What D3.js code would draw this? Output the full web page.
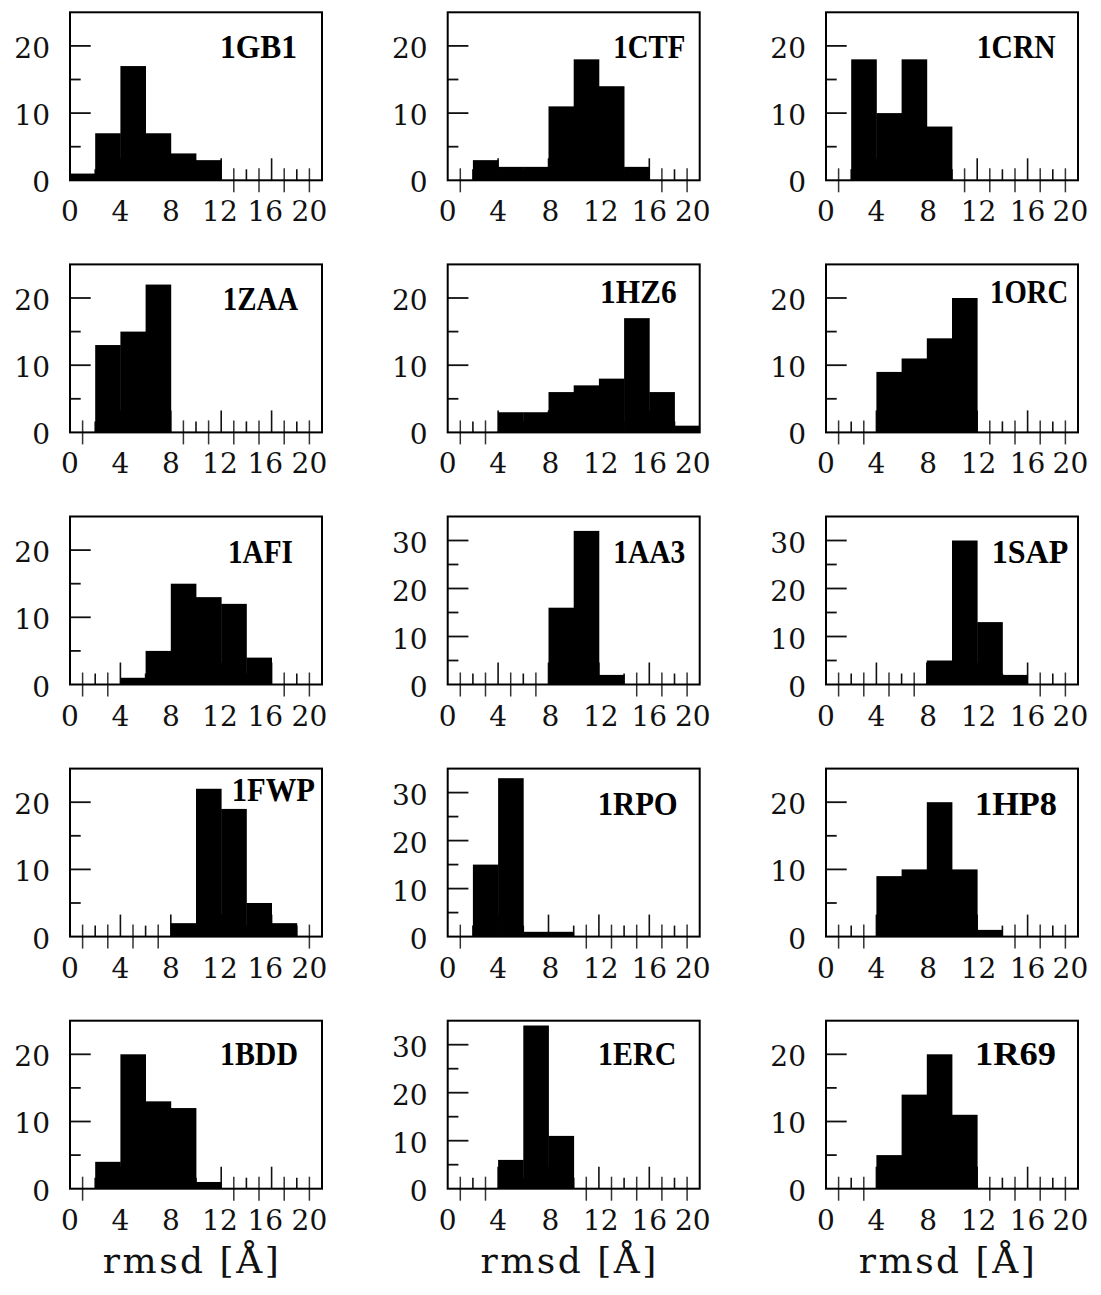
<!DOCTYPE html>
<html>
<head>
<meta charset="utf-8">
<script src="https://cdn.jsdelivr.net/npm/d3@7"></script>
<style>
  html, body { margin: 0; padding: 0; background: #fff; }
  svg { display: block; }
</style>
</head>
<body>
<div id="chart"></div>
<script>
// ---- data ----
const proteins = ["1GB1","1CTF","1CRN","1ZAA","1HZ6","1ORC","1AFI","1AA3","1SAP","1FWP","1RPO","1HP8","1BDD","1ERC","1R69"];
const binEdges = [0,2,4,6,8,10,12,14,16,18,20];
const c1GB1 = [1,7,17,7,4,3,0,0,0,0];
const c1CTF = [0,3,2,2,11,18,14,2,0,0];
const c1CRN = [0,18,10,18,8,0,0,0,0,0];
const c1ZAA = [0,13,15,22,0,0,0,0,0,0];
const c1HZ6 = [0,0,3,3,6,7,8,17,6,1];
const c1ORC = [0,0,9,11,14,20,0,0,0,0];
const c1AFI = [0,0,1,5,15,13,12,4,0,0];
const c1AA3 = [0,0,0,0,16,32,2,0,0,0];
const c1SAP = [0,0,0,0,5,30,13,2,0,0];
const c1FWP = [0,0,0,0,2,22,19,5,2,0];
const c1RPO = [0,15,33,1,1,0,0,0,0,0];
const c1HP8 = [0,0,9,10,20,10,1,0,0,0];
const c1BDD = [0,4,20,13,12,1,0,0,0,0];
const c1ERC = [0,0,6,34,11,0,0,0,0,0];
const c1R69 = [0,0,5,14,20,11,0,0,0,0];
const counts = [c1GB1,c1CTF,c1CRN,c1ZAA,c1HZ6,c1ORC,c1AFI,c1AA3,c1SAP,c1FWP,c1RPO,c1HP8,c1BDD,c1ERC,c1R69];
const xTickLabels = [0,4,8,12,16,20];
const xLabel = "rmsd [Å]";

// ---- layout ----
const W = 1101, H = 1295;
const colLeft = [70, 447.7, 826];
const rowTop0 = 12.3, rowStep = 252.1;
const pw = 252, ph = 168;
// title box inside each panel: [left offset, baseline offset, text width] (px)
const titleBox = {
  "1GB1":[150,46,77], "1CTF":[165.6,46,72], "1CRN":[150.7,46,79],
  "1ZAA":[152.7,46,75.6], "1HZ6":[152.3,39,76.7], "1ORC":[164,39,78.3],
  "1AFI":[158,46,65], "1AA3":[165.6,46,72], "1SAP":[165.7,46,76.6],
  "1FWP":[161.7,32,83.3], "1RPO":[150,46,80], "1HP8":[149,46,82],
  "1BDD":[150,44.3,78], "1ERC":[150.3,44.3,78.3], "1R69":[149,44.3,81]
};
const labelNudge = [{12:-0.1,16:-0.5,20:-1.0},{8:0.15,12:0.15,20:-0.55},{8:0.1,12:0.1,20:-0.6}];

const svg = d3.select("#chart").append("svg")
  .attr("width", W).attr("height", H)
  .style("background", "#fff");

proteins.forEach((name, i) => {
  const col = i % 3, row = Math.floor(i / 3);
  const x0 = colLeft[col], y0 = rowTop0 + row * rowStep;
  const data = counts[i];
  const ymax = d3.max(data) > 25 ? 35 : 25;
  const x = d3.scaleLinear().domain([0, 20]).range([0, pw]);
  const y = d3.scaleLinear().domain([0, ymax]).range([ph, 0]);
  const g = svg.append("g").attr("transform", `translate(${x0},${y0})`);

  // x ticks (integer units 1..19)
  const ticks = d3.range(1, 20);
  ticks.forEach(t => {
    if (t % 2 === 1) {
      const bin = Math.floor(t / 2);
      if (data[bin] > 0) return;
      g.append("line")
        .attr("x1", x(t)).attr("x2", x(t))
        .attr("y1", ph - 12).attr("y2", ph + 12)
        .attr("stroke", "#333").attr("stroke-width", 1.5);
    } else {
      const len = t % 4 === 0 ? 22 : 11;
      g.append("line")
        .attr("x1", x(t)).attr("x2", x(t))
        .attr("y1", ph - len).attr("y2", ph)
        .attr("stroke", "#111").attr("stroke-width", 1.6);
    }
  });

  // bars
  const bins = data.map((c, k) => ({x0: binEdges[k], x1: binEdges[k + 1], c}));
  g.selectAll("rect.bar").data(bins.filter(b => b.c > 0)).enter().append("rect")
    .attr("class", "bar")
    .attr("x", d => x(d.x0))
    .attr("width", d => x(d.x1) - x(d.x0) + 0.4)
    .attr("y", d => y(d.c))
    .attr("height", d => ph - y(d.c))
    .attr("fill", "#000");

  // y ticks
  const yt = d3.range(5, ymax, 5);
  g.selectAll("line.yt").data(yt).enter().append("line")
    .attr("x1", 0).attr("x2", d => d % 10 === 0 ? 20.7 : 10.7)
    .attr("y1", d => y(d)).attr("y2", d => y(d))
    .attr("stroke", "#111").attr("stroke-width", 1.8);

  // frame
  g.append("rect").attr("x", 0).attr("y", 0).attr("width", pw).attr("height", ph)
    .attr("fill", "none").attr("stroke", "#000").attr("stroke-width", 2);

  // y labels
  const yl = d3.range(0, ymax, 10);
  g.selectAll("text.yl").data(yl).enter().append("text")
    .attr("x", -20).attr("y", d => y(d) + 12)
    .attr("text-anchor", "end")
    .attr("font-family", "DejaVu Serif").attr("font-size", 28)
    .attr("fill", "#111")
    .text(d => d);

  // x labels
  g.selectAll("text.xl").data(xTickLabels).enter().append("text")
    .attr("x", d => x(d + (labelNudge[col][d] || 0)))
    .attr("y", ph + 41)
    .attr("text-anchor", "middle")
    .attr("font-family", "DejaVu Serif").attr("font-size", 28)
    .attr("fill", "#111")
    .text(d => d);

  // title
  const tb = titleBox[name];
  g.append("text")
    .attr("x", tb[0])
    .attr("y", tb[1])
    .attr("textLength", tb[2])
    .attr("lengthAdjust", "spacingAndGlyphs")
    .attr("font-family", "Liberation Serif").attr("font-weight", "bold")
    .attr("font-size", 33).attr("fill", "#000")
    .text(name);
});

// bottom axis titles
colLeft.forEach(cl => {
  svg.append("text")
    .attr("x", cl + pw / 2 - 4)
    .attr("y", 1273)
    .attr("text-anchor", "middle")
    .attr("font-family", "DejaVu Serif").attr("font-size", 36)
    .attr("letter-spacing", 2.5)
    .attr("fill", "#111")
    .text(xLabel);
});
</script>
</body>
</html>
